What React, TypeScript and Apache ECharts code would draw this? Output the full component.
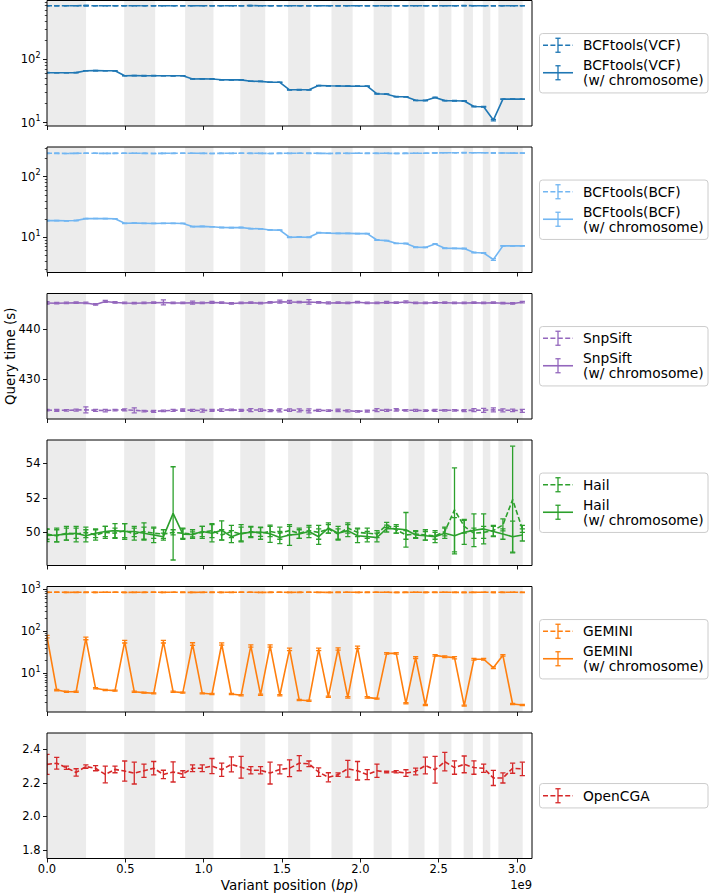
import React, { useEffect, useRef } from "react";
import * as echarts from "echarts";

// ---------- data ----------
// GRCh37 chromosome lengths (Mbp), chr1..22, X, Y
const CHROM_LENGTH_MB = [
  249.25, 243.2, 198.02, 191.15, 180.92, 171.12, 159.14, 146.36, 141.21, 135.53,
  135.01, 133.85, 115.17, 107.35, 102.53, 90.35, 81.2, 78.08, 59.13, 63.03,
  48.13, 51.3, 155.27, 59.37,
];

// query positions (Mbp)
const POSITION_MB = [
  0, 62, 124, 186, 248, 310, 372, 434, 496, 557, 619, 681, 743, 805, 867, 929,
  991, 1053, 1115, 1177, 1239, 1301, 1363, 1424, 1486, 1548, 1610, 1672, 1734,
  1796, 1858, 1920, 1982, 2044, 2106, 2168, 2229, 2291, 2353, 2415, 2477, 2539,
  2601, 2663, 2725, 2787, 2849, 2910, 2972, 3034,
];

const X_TICKS = [0, 5e8, 1e9, 1.5e9, 2e9, 2.5e9, 3e9];

// BCFtools (VCF)
const vcf = [
  700, 701, 699, 700, 702, 700, 699, 701, 700, 700, 698, 700, 701, 700, 699, 700,
  701, 700, 700, 699, 700, 702, 700, 699, 700, 701, 700, 700, 699, 700, 701, 700,
  700, 699, 700, 700, 701, 700, 699, 700, 701, 700, 700, 702, 700, 699, 700, 701,
  700, 700,
];
const vcfErr = [
  3, 3, 2, 3, 3, 2, 3, 3, 2, 3, 3, 3, 2, 3, 3, 2, 3, 3, 3, 2, 3, 3, 2, 3, 3, 3, 2,
  3, 3, 2, 3, 3, 3, 2, 3, 3, 2, 3, 3, 3, 2, 3, 3, 2, 3, 3, 3, 2, 3, 3,
];
const vcfChrom = [
  61.5, 61.3, 61.4, 61.6, 66, 66.2, 66, 65.8, 55, 55.2, 55, 55.1, 55, 54.9, 55,
  49, 49.2, 49, 47.5, 47.3, 47.4, 45, 44.8, 43.5, 43.4, 33, 33.1, 33, 38.5, 38.2,
  38, 37.8, 37.6, 37.6, 28.6, 28.2, 25.7, 25.6, 22.5, 22.4, 25, 22.3, 22.2, 22,
  18, 17.8, 11, 23.5, 23.5, 23.5,
];
const vcfChromErr = [
  0.5, 0.4, 0.4, 0.5, 0.5, 0.4, 0.5, 0.4, 0.4, 0.4, 0.5, 0.4, 0.4, 0.4, 0.4, 0.4,
  0.4, 0.3, 0.4, 0.3, 0.4, 0.3, 0.4, 0.3, 0.3, 0.3, 0.3, 0.3, 0.3, 0.3, 0.3, 0.3,
  0.3, 0.3, 0.3, 0.3, 0.2, 0.2, 0.2, 0.2, 0.3, 0.2, 0.2, 0.2, 0.2, 0.2, 0.3, 0.2,
  0.2, 0.2,
];

// BCFtools (BCF)
const bcf = [
  243, 243, 242, 243, 244, 243, 242, 243, 243, 244, 243, 242, 243, 243, 243, 244,
  243, 242, 243, 243, 244, 243, 243, 242, 243, 243, 244, 243, 243, 242, 243, 243,
  244, 243, 243, 243, 242, 243, 244, 244, 247, 248, 248, 249, 248, 248, 247, 246,
  245, 245,
];
const bcfErr = [
  1.5, 1.5, 1, 1.5, 1.5, 1, 1.5, 1.5, 1, 1.5, 1.5, 1, 1.5, 1.5, 1, 1.5, 1.5, 1,
  1.5, 1.5, 1, 1.5, 1.5, 1, 1.5, 1.5, 1, 1.5, 1.5, 1, 1.5, 1.5, 1, 1.5, 1.5, 1,
  1.5, 1.5, 1, 1.5, 1.5, 1, 1.5, 1.5, 1, 1.5, 1.5, 1, 1.5, 1.5,
];
const bcfChrom = [
  18.8, 18.8, 18.7, 18.9, 20.3, 20.4, 20.3, 20.2, 17, 17.1, 17, 16.9, 17, 17,
  16.9, 15, 15.1, 14.9, 14.5, 14.4, 14.5, 13.9, 13.8, 13.2, 13.1, 10, 10.1, 10,
  11.9, 11.7, 11.6, 11.6, 11.5, 11.5, 9, 8.8, 7.95, 7.9, 6.85, 6.8, 7.75, 6.6,
  6.55, 6.5, 5.6, 5.5, 4.3, 7.2, 7.2, 7.2,
];
const bcfChromErr = [
  0.2, 0.15, 0.15, 0.2, 0.2, 0.15, 0.2, 0.15, 0.15, 0.15, 0.15, 0.15, 0.15, 0.15,
  0.15, 0.15, 0.15, 0.1, 0.15, 0.1, 0.15, 0.1, 0.1, 0.1, 0.1, 0.1, 0.1, 0.1, 0.1,
  0.1, 0.1, 0.1, 0.1, 0.1, 0.1, 0.1, 0.08, 0.08, 0.08, 0.08, 0.1, 0.08, 0.08,
  0.08, 0.08, 0.08, 0.15, 0.08, 0.08, 0.08,
];

// SnpSift
const snp = [
  423.75, 423.7, 423.7, 423.75, 423.8, 423.7, 423.65, 423.75, 423.8, 423.7,
  423.55, 423.5, 423.6, 423.7, 423.75, 423.7, 423.65, 423.7, 423.75, 423.8,
  423.7, 423.75, 423.75, 423.65, 423.7, 423.75, 423.7, 423.6, 423.7, 423.65,
  423.7, 423.6, 423.5, 423.55, 423.75, 423.7, 423.8, 423.7, 423.7, 423.65,
  423.7, 423.7, 423.7, 423.65, 423.75, 423.7, 423.8, 423.7, 423.7, 423.6,
];
const snpErr = [
  0.15, 0.2, 0.15, 0.2, 0.6, 0.2, 0.25, 0.15, 0.2, 0.5, 0.15, 0.2, 0.15, 0.2,
  0.25, 0.2, 0.3, 0.2, 0.25, 0.15, 0.2, 0.3, 0.25, 0.2, 0.3, 0.25, 0.3, 0.4, 0.2,
  0.15, 0.25, 0.2, 0.15, 0.2, 0.3, 0.2, 0.25, 0.15, 0.2, 0.15, 0.2, 0.15, 0.15,
  0.2, 0.3, 0.4, 0.4, 0.3, 0.25, 0.3,
];
const snpChrom = [
  445.3, 445.25, 445.3, 445.35, 445.3, 445.0, 445.6, 445.4, 445.3, 445.25, 445.3,
  445.35, 445.4, 445.3, 445.3, 445.35, 445.3, 445.4, 445.35, 445.2, 445.3,
  445.35, 445.25, 445.4, 445.55, 445.5, 445.45, 445.5, 445.4, 445.3, 445.35,
  445.3, 445.45, 445.3, 445.3, 445.4, 445.35, 445.5, 445.3, 445.3, 445.35,
  445.35, 445.3, 445.3, 445.35, 445.3, 445.35, 445.25, 445.2, 445.45,
];
const snpChromErr = [
  0.25, 0.15, 0.15, 0.15, 0.15, 0.15, 0.2, 0.15, 0.15, 0.15, 0.15, 0.15, 0.5,
  0.15, 0.15, 0.3, 0.15, 0.2, 0.15, 0.15, 0.15, 0.15, 0.15, 0.15, 0.3, 0.3, 0.15,
  0.45, 0.15, 0.2, 0.15, 0.15, 0.15, 0.15, 0.15, 0.2, 0.15, 0.2, 0.15, 0.15,
  0.15, 0.15, 0.15, 0.15, 0.15, 0.15, 0.15, 0.15, 0.15, 0.15,
];

// Hail
const hail = [
  49.9, 49.8, 49.95, 49.9, 50.0, 49.85, 50.0, 49.95, 50.1, 49.9, 50.05, 49.95,
  49.9, 50.0, 49.95, 49.9, 50.0, 50.1, 49.85, 50.05, 49.9, 50.05, 49.95, 50.05,
  49.95, 50.1, 49.95, 50.1, 50.0, 50.2, 49.9, 50.25, 50.0, 49.95, 49.9, 50.43,
  50.15, 49.85, 49.9, 49.85, 49.8, 50.05, 51.3, 50.35, 49.95, 50.0, 50.1, 50.43,
  51.9, 50.2,
];
const hailErr = [
  0.3, 0.35, 0.4, 0.45, 0.3, 0.3, 0.35, 0.3, 0.4, 0.35, 0.5, 0.3, 0.25, 0.15,
  0.3, 0.25, 0.35, 0.4, 0.3, 0.35, 0.4, 0.3, 0.35, 0.3, 0.35, 0.25, 0.3, 0.2,
  0.4, 0.25, 0.3, 0.3, 0.25, 0.3, 0.2, 0.15, 0.2, 0.25, 0.2, 0.3, 0.2, 0.25,
  2.43, 0.4, 0.3, 0.35, 0.3, 0.35, 3.09, 0.2,
];
const hailChrom = [
  49.82, 49.85, 49.9, 49.95, 49.8, 49.95, 50.05, 50.1, 50.05, 50.05, 49.95,
  49.85, 49.75, 51.1, 49.9, 49.88, 50.05, 49.95, 50.12, 49.75, 49.95, 50.0,
  50.02, 49.92, 49.7, 49.85, 49.9, 50.05, 49.75, 50.25, 49.95, 50.1, 49.8,
  49.75, 49.7, 50.22, 50.2, 50.15, 49.85, 49.8, 49.75, 49.95, 49.8, 50.0, 50.12,
  50.2, 50.05, 49.9, 49.75, 49.85,
];
const hailChromErr = [
  0.35, 0.4, 0.35, 0.3, 0.35, 0.25, 0.3, 0.4, 0.45, 0.3, 0.35, 0.45, 0.2, 2.7,
  0.3, 0.15, 0.3, 0.5, 0.55, 0.35, 0.5, 0.3, 0.25, 0.5, 0.35, 0.6, 0.25, 0.35,
  0.45, 0.3, 0.4, 0.35, 0.4, 0.3, 0.25, 0.2, 0.25, 1.0, 0.2, 0.25, 0.35, 0.3,
  1.05, 0.7, 0.95, 0.87, 0.3, 0.3, 0.9, 0.35,
];

// GEMINI
const gem = [
  848, 850, 846, 848, 849, 847, 848, 850, 846, 848, 849, 848, 847, 850, 848, 846,
  848, 849, 847, 848, 850, 848, 846, 848, 849, 847, 848, 850, 848, 846, 848, 849,
  847, 848, 850, 848, 846, 848, 849, 847, 848, 850, 848, 846, 848, 849, 847, 848,
  850, 848,
];
const gemErr = [
  8, 9, 7, 8, 9, 8, 7, 9, 8, 8, 9, 7, 8, 9, 8, 7, 8, 9, 8, 8, 9, 7, 8, 9, 8, 7, 8,
  9, 8, 8, 9, 7, 8, 9, 8, 7, 8, 9, 8, 8, 9, 7, 8, 9, 8, 7, 8, 9, 8, 8,
];
const gemChrom = [
  74.6, 4.0, 3.65, 3.65, 68, 4.4, 4.0, 3.87, 56.7, 3.65, 3.47, 3.34, 56.7, 3.65,
  3.47, 49.9, 3.34, 3.22, 49.9, 3.22, 3.0, 44.8, 3.1, 44.8, 3.0, 37.3, 2.32,
  2.23, 37.3, 2.78, 38, 2.68, 41.6, 2.68, 2.5, 29.9, 29.9, 1.93, 23.6, 1.76,
  26.8, 24.9, 23.6, 1.7, 21.6, 21.6, 13.6, 26.8, 1.86, 1.76,
];
const gemChromErr = [
  5, 0.15, 0.12, 0.12, 5, 0.15, 0.12, 0.12, 4, 0.12, 0.1, 0.1, 4, 0.12, 0.1, 3.5,
  0.1, 0.1, 3, 0.1, 0.1, 3, 0.1, 3, 0.1, 2.5, 0.08, 0.08, 2.5, 0.1, 2.5, 0.1, 3,
  0.1, 0.08, 1.2, 1.2, 0.06, 1.2, 0.05, 1.2, 1.2, 1.5, 0.05, 1, 1, 0.6, 1.2,
  0.06, 0.05,
];

// OpenCGA
const ocga = [
  2.31, 2.317, 2.29, 2.262, 2.297, 2.287, 2.25, 2.28, 2.27, 2.258, 2.272, 2.287,
  2.25, 2.265, 2.252, 2.287, 2.287, 2.3, 2.278, 2.31, 2.293, 2.275, 2.275, 2.258,
  2.28, 2.287, 2.317, 2.313, 2.264, 2.233, 2.249, 2.284, 2.272, 2.249, 2.272,
  2.264, 2.266, 2.258, 2.268, 2.303, 2.278, 2.326, 2.291, 2.31, 2.291, 2.287,
  2.229, 2.229, 2.287, 2.283,
];
const ocgaErr = [
  0.06, 0.035, 0.01, 0.022, 0.01, 0.015, 0.05, 0.02, 0.06, 0.065, 0.04, 0.04,
  0.025, 0.06, 0.02, 0.02, 0.02, 0.045, 0.04, 0.045, 0.065, 0.022, 0.022, 0.065,
  0.027, 0.05, 0.045, 0.017, 0.025, 0.027, 0.01, 0.05, 0.055, 0.03, 0.04, 0.005,
  0.007, 0.02, 0.02, 0.05, 0.08, 0.055, 0.04, 0.05, 0.04, 0.025, 0.045, 0.03,
  0.03, 0.04,
];

// y tick values per panel
const P1_MAJOR = [10, 100];
const P1_MINOR = [9, 20, 30, 40, 50, 60, 70, 80, 90, 200, 300, 400, 500, 600, 700, 800];
const P2_MAJOR = [10, 100];
const P2_MINOR = [3, 4, 5, 6, 7, 8, 9, 20, 30, 40, 50, 60, 70, 80, 90, 200, 300];
const P3_MAJOR = [430, 440];
const P4_MAJOR = [50, 52, 54];
const P5_MAJOR = [10, 100, 1000];
const P5_MINOR = [2, 3, 4, 5, 6, 7, 8, 9, 20, 30, 40, 50, 60, 70, 80, 90, 200, 300, 400, 500, 600, 700, 800, 900];
const P6_MAJOR = [1.8, 2.0, 2.2, 2.4];

// ---------- styling / layout ----------
const FONT = "'DejaVu Sans', Verdana, sans-serif";
const TICK_FS = 11.5;
const LABEL_FS = 13.5;
const LEFT = 47;
const WIDTH = 485;
const PH = 125.5;
const TOPS = [0.5, 147, 293.5, 440, 586.5, 733];
const BAND = "#ececec";
const CAP = 2.6;
const LW = 1.6;
const DASH = [5, 2.4];

const C_VCF = "#1f77b4";
const C_BCF = "#72b6f2";
const C_SNP = "#9467bd";
const C_HAIL = "#2ca02c";
const C_GEM = "#ff7f0e";
const C_OCGA = "#d62728";

type S = { name: string; color: string; values: number[]; errs: number[]; dashed: boolean };
type P = {
  log: boolean;
  min: number;
  max: number;
  major: number[];
  minor: number[];
  fmt: (v: number) => string;
  series: S[];
};

const logFmt = (v: number) => `{b|10}{sup|${Math.round(Math.log10(v))}}`;
const intFmt = (v: number) => `${Math.round(v)}`;
const oneFmt = (v: number) => v.toFixed(1);

function buildOption() {
  const xs = POSITION_MB.map((m) => m * 1e6);
  const xMax = CHROM_LENGTH_MB.reduce((a, b) => a + b, 0) * 1e6;
  const bands: number[][] = [];
  let acc = 0;
  CHROM_LENGTH_MB.forEach((len, i) => {
    if (i % 2 === 0) bands.push([acc * 1e6, (acc + len) * 1e6]);
    acc += len;
  });

  const panels: P[] = [
    {
      log: true, min: 8.87, max: 846, major: P1_MAJOR, minor: P1_MINOR, fmt: logFmt,
      series: [
        { name: "BCFtools(VCF)", color: C_VCF, values: vcf, errs: vcfErr, dashed: true },
        { name: "BCFtools(VCF)\n(w/ chromosome)", color: C_VCF, values: vcfChrom, errs: vcfChromErr, dashed: false },
      ],
    },
    {
      log: true, min: 2.62, max: 309, major: P2_MAJOR, minor: P2_MINOR, fmt: logFmt,
      series: [
        { name: "BCFtools(BCF)", color: C_BCF, values: bcf, errs: bcfErr, dashed: true },
        { name: "BCFtools(BCF)\n(w/ chromosome)", color: C_BCF, values: bcfChrom, errs: bcfChromErr, dashed: false },
      ],
    },
    {
      log: false, min: 421.95, max: 447.2, major: P3_MAJOR, minor: [], fmt: intFmt,
      series: [
        { name: "SnpSift", color: C_SNP, values: snp, errs: snpErr, dashed: true },
        { name: "SnpSift\n(w/ chromosome)", color: C_SNP, values: snpChrom, errs: snpChromErr, dashed: false },
      ],
    },
    {
      log: false, min: 48.08, max: 55.35, major: P4_MAJOR, minor: [], fmt: intFmt,
      series: [
        { name: "Hail", color: C_HAIL, values: hail, errs: hailErr, dashed: true },
        { name: "Hail\n(w/ chromosome)", color: C_HAIL, values: hailChrom, errs: hailChromErr, dashed: false },
      ],
    },
    {
      log: true, min: 1.2, max: 1166, major: P5_MAJOR, minor: P5_MINOR, fmt: logFmt,
      series: [
        { name: "GEMINI", color: C_GEM, values: gem, errs: gemErr, dashed: true },
        { name: "GEMINI\n(w/ chromosome)", color: C_GEM, values: gemChrom, errs: gemChromErr, dashed: false },
      ],
    },
    {
      log: false, min: 1.749, max: 2.497, major: P6_MAJOR, minor: [], fmt: oneFmt,
      series: [{ name: "OpenCGA", color: C_OCGA, values: ocga, errs: ocgaErr, dashed: true }],
    },
  ];

  const grid = panels.map((_, i) => ({
    left: LEFT, top: TOPS[i], width: WIDTH, height: PH, containLabel: false, outerBoundsMode: "none",
  }));

  const tickLine = { color: "#000", width: 0.9 };

  const xAxis = panels.map((_, i) => ({
    type: "value",
    gridIndex: i,
    position: "bottom",
    min: 0,
    max: xMax,
    axisLine: { show: false },
    splitLine: { show: false },
    axisTick: { show: true, inside: false, length: 4, customValues: X_TICKS, lineStyle: tickLine },
    axisLabel: {
      show: i === 5,
      customValues: X_TICKS,
      formatter: (v: number) => (v / 1e9).toFixed(1),
      margin: 4,
      color: "#000",
      fontSize: TICK_FS,
      fontFamily: FONT,
    },
    ...(i === 5
      ? {
          name: "Variant position ({it|bp})",
          nameLocation: "middle",
          nameGap: 19,
          nameMoveOverlap: false,
          nameTextStyle: {
            color: "#000",
            fontSize: LABEL_FS,
            fontFamily: FONT,
            rich: { it: { fontStyle: "italic", fontSize: LABEL_FS, fontFamily: FONT, color: "#000" } },
          },
        }
      : {}),
  }));

  const yAxis: any[] = [];
  panels.forEach((p, i) => {
    yAxis.push({
      type: p.log ? "log" : "value",
      ...(p.log ? { logBase: 10 } : {}),
      gridIndex: i,
      position: "left",
      min: p.min,
      max: p.max,
      axisLine: { show: false },
      splitLine: { show: false },
      axisTick: { show: true, inside: false, length: 4, customValues: p.major, lineStyle: tickLine },
      axisLabel: {
        customValues: p.major,
        formatter: p.fmt,
        margin: 6.5,
        color: "#000",
        fontSize: TICK_FS,
        fontFamily: FONT,
        rich: {
          b: { fontSize: TICK_FS, fontFamily: FONT, color: "#000", lineHeight: 16 },
          sup: { fontSize: 8, fontFamily: FONT, color: "#000", lineHeight: 9, verticalAlign: "top" },
        },
      },
      ...(i === 2
        ? {
            name: "Query time (s)",
            nameLocation: "middle",
            nameGap: 30,
            nameRotate: 90,
            nameMoveOverlap: false,
            nameTextStyle: { color: "#000", fontSize: LABEL_FS, fontFamily: FONT },
          }
        : {}),
    });
    // minor ticks: a second axis on the right side shifted onto the left edge
    yAxis.push({
      type: p.log ? "log" : "value",
      ...(p.log ? { logBase: 10 } : {}),
      gridIndex: i,
      position: "right",
      offset: -WIDTH,
      min: p.min,
      max: p.max,
      axisLine: { show: false },
      splitLine: { show: false },
      axisLabel: { show: false },
      axisTick: {
        show: p.minor.length > 0,
        inside: true,
        length: 2.2,
        customValues: p.minor.length ? p.minor : undefined,
        lineStyle: { color: "#000", width: 0.7 },
      },
    });
  });

  const series: any[] = [];
  panels.forEach((p, i) => {
    series.push({
      type: "custom",
      name: "bands" + i,
      xAxisIndex: i,
      yAxisIndex: 2 * i,
      silent: true,
      z: 0,
      clip: true,
      data: bands.map((b) => [b[0], b[1], p.min]),
      encode: { x: [0, 1], y: 2 },
      renderItem: (params: any, api: any) => {
        const cs = params.coordSys;
        const x0 = api.coord([api.value(0), p.min])[0];
        const x1 = api.coord([api.value(1), p.min])[0];
        return {
          type: "rect",
          shape: { x: x0, y: cs.y, width: x1 - x0, height: cs.height },
          style: { fill: BAND },
        };
      },
    });
    p.series.forEach((s) => {
      series.push({
        type: "line",
        name: s.name,
        xAxisIndex: i,
        yAxisIndex: 2 * i,
        data: xs.map((x, k) => [x, s.values[k]]),
        showSymbol: false,
        symbol: "none",
        silent: true,
        z: 3,
        lineStyle: { color: s.color, width: LW, type: s.dashed ? DASH : "solid" },
        itemStyle: { color: s.color },
      });
      series.push({
        type: "custom",
        name: s.name + " err",
        xAxisIndex: i,
        yAxisIndex: 2 * i,
        silent: true,
        z: 3,
        clip: true,
        data: xs.map((x, k) => [x, s.values[k] - s.errs[k], s.values[k] + s.errs[k]]),
        encode: { x: 0, y: [1, 2] },
        renderItem: (_params: any, api: any) => {
          const x = api.value(0);
          const a = api.coord([x, api.value(2)]);
          const b = api.coord([x, api.value(1)]);
          const st = { stroke: s.color, lineWidth: 1.3 };
          return {
            type: "group",
            children: [
              { type: "line", shape: { x1: a[0], y1: a[1], x2: b[0], y2: b[1] }, style: st },
              { type: "line", shape: { x1: a[0] - CAP, y1: a[1], x2: a[0] + CAP, y2: a[1] }, style: st },
              { type: "line", shape: { x1: b[0] - CAP, y1: b[1], x2: b[0] + CAP, y2: b[1] }, style: st },
            ],
          };
        },
      });
    });
  });

  // frames + legends
  const graphic: any[] = [];
  panels.forEach((p, i) => {
    graphic.push({
      type: "rect",
      silent: true,
      z: 100,
      shape: { x: LEFT, y: TOPS[i], width: WIDTH, height: PH },
      style: { fill: "none", stroke: "#000", lineWidth: 1 },
    });
    const c = TOPS[i] + PH / 2;
    const two = p.series.length === 2;
    const boxH = two ? 59.4 : 24.4;
    const boxTop = c - boxH / 2;
    graphic.push({
      type: "rect",
      silent: true,
      z: 100,
      shape: { x: 539.5, y: boxTop, width: 168.5, height: boxH, r: 3 },
      style: { fill: "rgba(255,255,255,0.8)", stroke: "#cccccc", lineWidth: 1 },
    });
    p.series.forEach((s, k) => {
      const y = two ? (k === 0 ? boxTop + 11.7 : boxTop + 39.2) : c;
      const st = { stroke: s.color, lineWidth: LW };
      graphic.push({
        type: "line",
        silent: true,
        z: 101,
        shape: { x1: 543, y1: y, x2: 573, y2: y },
        style: s.dashed ? { ...st, lineDash: DASH } : st,
      });
      const est = { stroke: s.color, lineWidth: 1.3 };
      graphic.push({ type: "line", silent: true, z: 101, shape: { x1: 558, y1: y - 7, x2: 558, y2: y + 7 }, style: est });
      graphic.push({ type: "line", silent: true, z: 101, shape: { x1: 558 - CAP, y1: y - 7, x2: 558 + CAP, y2: y - 7 }, style: est });
      graphic.push({ type: "line", silent: true, z: 101, shape: { x1: 558 - CAP, y1: y + 7, x2: 558 + CAP, y2: y + 7 }, style: est });
      graphic.push({
        type: "text",
        silent: true,
        z: 101,
        x: 583,
        y: y,
        style: {
          text: s.name,
          fill: "#000",
          fontSize: 13.8,
          fontFamily: FONT,
          lineHeight: 15,
          align: "left",
          verticalAlign: "middle",
          textAlign: "left",
          textVerticalAlign: "middle",
        },
      });
    });
  });
  graphic.push({
    type: "text",
    silent: true,
    z: 101,
    x: 532,
    y: 884.5,
    style: {
      text: "1e9",
      fill: "#000",
      fontSize: TICK_FS,
      fontFamily: FONT,
      align: "right",
      verticalAlign: "middle",
      textAlign: "right",
      textVerticalAlign: "middle",
    },
  });

  return {
    animation: false,
    backgroundColor: "#ffffff",
    textStyle: { fontFamily: FONT },
    grid,
    xAxis,
    yAxis,
    series,
    graphic: { elements: graphic },
  };
}

export default function App() {
  const ref = useRef<HTMLDivElement>(null);
  useEffect(() => {
    if (!ref.current) return;
    const chart = echarts.init(ref.current, null, { renderer: "svg" });
    chart.setOption(buildOption() as any);
    return () => chart.dispose();
  }, []);
  return (
    <div
      ref={ref}
      style={{ position: "absolute", left: 0, top: 0, width: 709, height: 893 }}
    />
  );
}
